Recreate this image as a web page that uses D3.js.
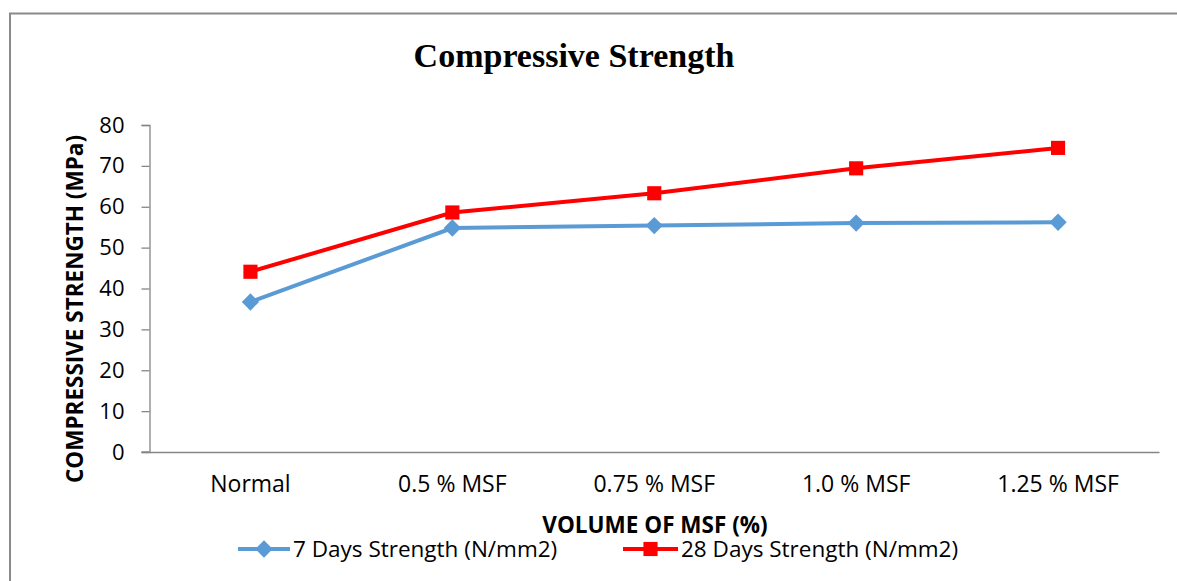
<!DOCTYPE html>
<html>
<head>
<meta charset="utf-8">
<script src="https://cdn.jsdelivr.net/npm/d3@7"></script>
<style>
  html, body { margin: 0; padding: 0; background: #fff; }
  svg { display: block; }
</style>
</head>
<body>
<svg id="chart" width="1177" height="581"></svg>
<script>
// Mix categories and measured compressive strengths (MPa)
const categories = ["Normal", "0.5 % MSF", "0.75 % MSF", "1.0 % MSF", "1.25 % MSF"];
const strength7 = [36.7, 54.8, 55.4, 56.0, 56.2];
const strength28 = [44.1, 58.6, 63.3, 69.4, 74.4];
const yTicks = [0, 10, 20, 30, 40, 50, 60, 70, 80];
const seriesNames = ["7 Days Strength (N/mm2)", "28 Days Strength (N/mm2)"];

const W = 1177, H = 581;
const margin = { left: 149.5, right: 1159, top: 125, bottom: 452 };
const svg = d3.select("#chart");
const labelFont = "'Open Sans', sans-serif";

// Chart frame (top and left edges only)
svg.append("path")
  .attr("d", `M10,${H} V13.5 H${W}`)
  .attr("fill", "none")
  .attr("stroke", "#8a8a8a")
  .attr("stroke-width", 2);

const x = d3.scaleBand().domain(categories).range([margin.left, margin.right]);
const y = d3.scaleLinear().domain([0, 80]).range([margin.bottom, margin.top]);

// Y axis
const yAxis = svg.append("g")
  .attr("transform", `translate(${margin.left},0)`)
  .call(d3.axisLeft(y).tickValues(yTicks).tickSize(8).tickPadding(17));
yAxis.select(".domain").attr("stroke", "#868686").attr("stroke-width", 1.3);
yAxis.selectAll(".tick line").attr("stroke", "#868686").attr("stroke-width", 1.3);
yAxis.selectAll(".tick text")
  .attr("font-family", labelFont).attr("font-size", 22).attr("fill", "#000");

// X axis
const xAxis = svg.append("g")
  .attr("transform", `translate(0,${margin.bottom})`)
  .call(d3.axisBottom(x).tickSize(0).tickPadding(24));
xAxis.select(".domain").attr("stroke", "#868686").attr("stroke-width", 1.3);
xAxis.selectAll(".tick text")
  .attr("font-family", labelFont).attr("font-size", 23).attr("fill", "#000");
// baseline extends left under the 0 tick
svg.append("line")
  .attr("x1", margin.left - 8).attr("x2", margin.left)
  .attr("y1", y(0)).attr("y2", y(0))
  .attr("stroke", "#868686").attr("stroke-width", 1.3);

// Title
svg.append("text")
  .attr("x", 574).attr("y", 67)
  .attr("text-anchor", "middle")
  .attr("font-family", "'Liberation Serif', serif")
  .attr("font-weight", "bold")
  .attr("font-size", 34)
  .text("Compressive Strength");

// Axis titles
svg.append("text")
  .attr("transform", `translate(83,309) rotate(-90)`)
  .attr("text-anchor", "middle")
  .attr("font-family", labelFont)
  .attr("font-weight", "bold")
  .attr("font-size", 22.5)
  .text("COMPRESSIVE STRENGTH (MPa)");

svg.append("text")
  .attr("x", 655).attr("y", 533)
  .attr("text-anchor", "middle")
  .attr("font-family", labelFont)
  .attr("font-weight", "bold")
  .attr("font-size", 22.5)
  .text("VOLUME OF MSF (%)");

const cx = c => x(c) + x.bandwidth() / 2;
const line = d3.line().x((d, i) => cx(categories[i])).y(d => y(d));

const series = [
  { name: seriesNames[0], values: strength7, color: "#5B9BD5", size: 150, rot: 45 },
  { name: seriesNames[1], values: strength28, color: "#FF0000", size: 200, rot: 0 }
];

// Lines with their markers
series.forEach(s => {
  svg.append("path")
    .datum(s.values)
    .attr("d", line)
    .attr("fill", "none")
    .attr("stroke", s.color)
    .attr("stroke-width", 4);
  svg.append("g").selectAll("path")
    .data(s.values)
    .join("path")
    .attr("d", d3.symbol().type(d3.symbolSquare).size(s.size))
    .attr("transform", (d, i) => `translate(${cx(categories[i])},${y(d)}) rotate(${s.rot})`)
    .attr("fill", s.color);
});

// Legend
const legendPos = [{ x: 238, tx: 293 }, { x: 623, tx: 681 }];
series.forEach((s, i) => {
  const g = svg.append("g");
  const lx = legendPos[i].x, ly = 549;
  g.append("line")
    .attr("x1", lx).attr("x2", legendPos[i].tx - 3)
    .attr("y1", ly).attr("y2", ly)
    .attr("stroke", s.color).attr("stroke-width", 4);
  g.append("path")
    .attr("d", d3.symbol().type(d3.symbolSquare).size(s.size))
    .attr("transform", `translate(${(lx + legendPos[i].tx - 3) / 2},${ly}) rotate(${s.rot})`)
    .attr("fill", s.color);
  g.append("text")
    .attr("x", legendPos[i].tx).attr("y", ly + 8)
    .attr("font-family", labelFont)
    .attr("font-size", 22.5)
    .text(s.name);
});
</script>
</body>
</html>
